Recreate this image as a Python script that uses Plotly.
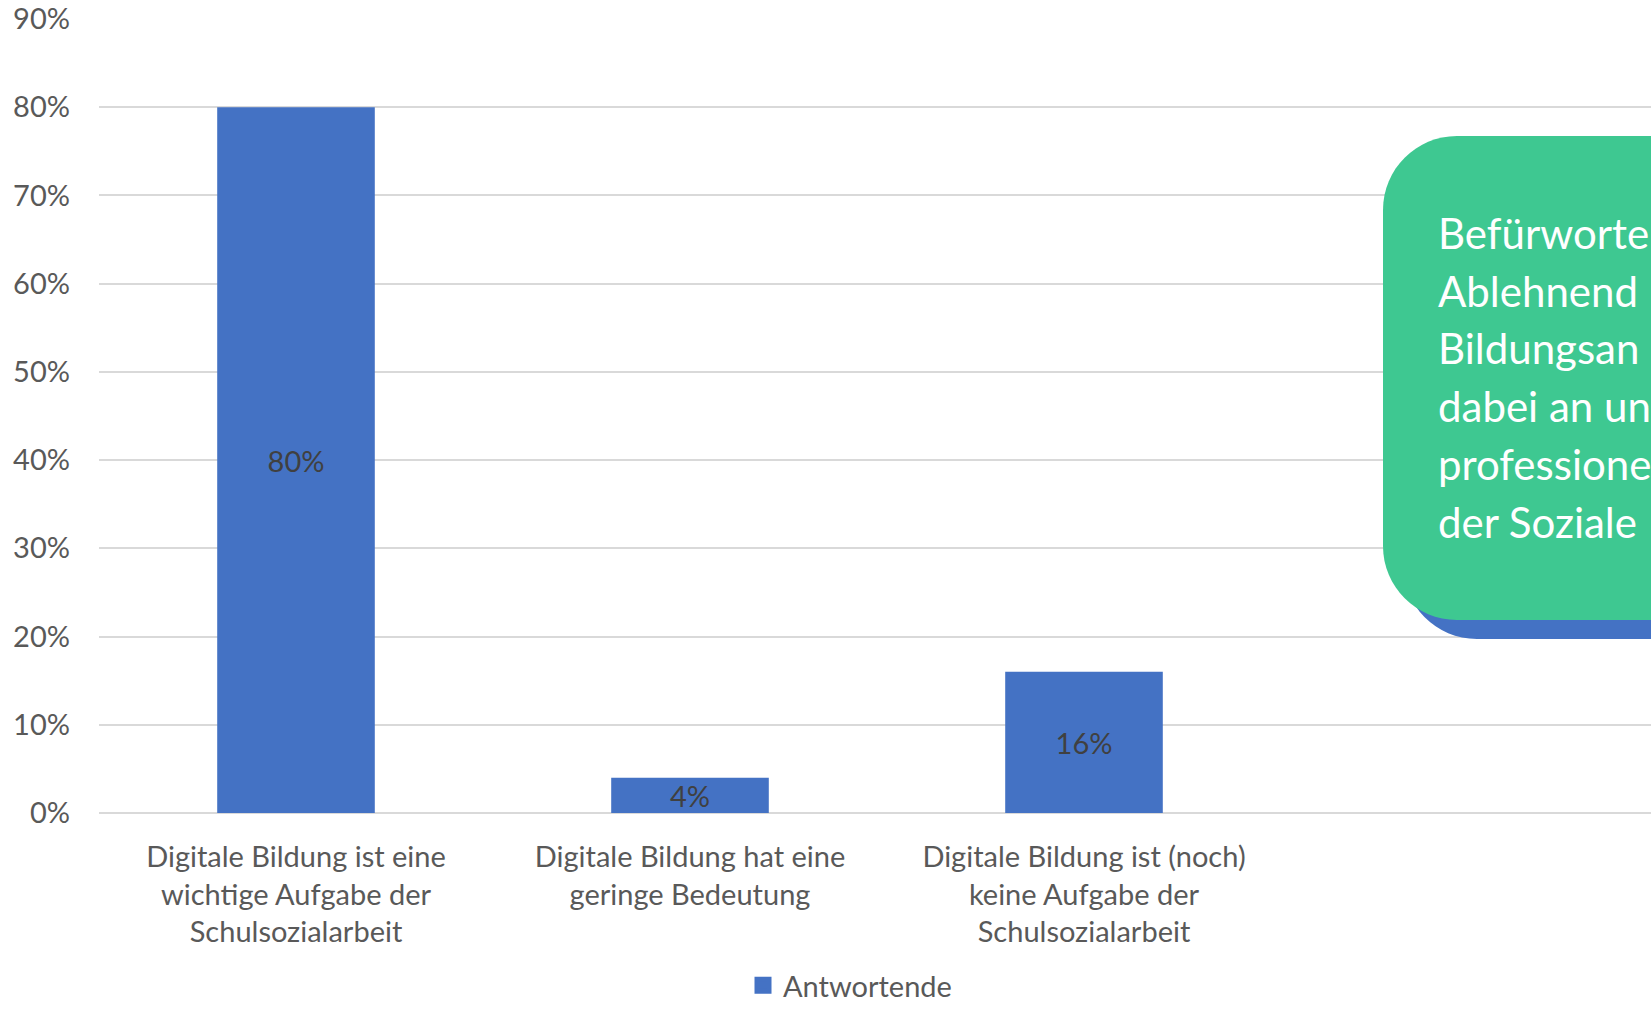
import plotly.graph_objects as go

# ---- data ----
categories = [
    "Digitale Bildung ist eine<br>wichtige Aufgabe der<br>Schulsozialarbeit",
    "Digitale Bildung hat eine<br>geringe Bedeutung",
    "Digitale Bildung ist (noch)<br>keine Aufgabe der<br>Schulsozialarbeit",
]
values = [0.80, 0.04, 0.16]
series_name = "Antwortende"
y_ticks = [0, 0.1, 0.2, 0.3, 0.4, 0.5, 0.6, 0.7, 0.8, 0.9]
callout_lines = ["Befürworte", "Ablehnend", "Bildungsan", "dabei an un", "professione", "der Soziale"]

# ---- layout geometry (pixels) ----
W, H = 1651, 1011
ML, MR, MT, MB = 99, 0, 19, 198
PW = W - ML - MR
PH = H - MT - MB

def px_x(p):
    return (p - ML) / PW

def px_y(p):
    return (H - MB - p) / PH

FONT = "Lato"
BLUE = "#4472C4"
GREEN = "#3EC891"
FS = 29

fig = go.Figure()
fig.add_trace(go.Bar(
    x=categories, y=values, width=0.4,
    marker=dict(color=BLUE, line=dict(width=0)),
    texttemplate="%{y:.0%}", textposition="inside", insidetextanchor="middle",
    constraintext="none", cliponaxis=False,
    textfont=dict(family=FONT, size=FS, color="#404040"),
    showlegend=False, hoverinfo="skip",
))
# legend-only entry
fig.add_trace(go.Bar(
    x=[None], y=[None], name=series_name,
    marker=dict(color=BLUE, line=dict(color=BLUE, width=5)),
    showlegend=True,
))

def rounded_left_rect(x0, top, bot, x1, r):
    rx = r / PW
    ry = r / PH
    k = 0.5523
    X0, X1 = px_x(x0), px_x(x1)
    T, B = px_y(top), px_y(bot)
    return (
        f"M {X0+rx},{T} L {X1},{T} L {X1},{B} L {X0+rx},{B} "
        f"C {X0+rx-k*rx},{B} {X0},{B+ry-k*ry} {X0},{B+ry} "
        f"L {X0},{T-ry} "
        f"C {X0},{T-ry+k*ry} {X0+rx-k*rx},{T} {X0+rx},{T} Z"
    )

shapes = [
    dict(type="path", xref="paper", yref="paper",
         path=rounded_left_rect(1403, 155, 639, 1900, 74),
         fillcolor=BLUE, line=dict(width=0), layer="above"),
    dict(type="path", xref="paper", yref="paper",
         path=rounded_left_rect(1383, 136, 620, 1900, 74),
         fillcolor=GREEN, line=dict(width=0), layer="above"),
]

annotations = []
for i, line in enumerate(callout_lines):
    annotations.append(dict(
        xref="paper", yref="paper", x=px_x(1436), y=px_y(233 + i * 57.7),
        xanchor="left", yanchor="middle", showarrow=False, align="left",
        text=line, font=dict(family=FONT, size=42, color="white"),
    ))

fig.update_layout(
    width=W, height=H,
    margin=dict(l=ML, r=MR, t=MT, b=MB, pad=0, autoexpand=False),
    paper_bgcolor="white", plot_bgcolor="white",
    barmode="overlay",
    font=dict(family=FONT, color="#595959", size=FS),
    xaxis=dict(
        range=[-0.5, -0.5 + PW / 394.0], showgrid=False, showline=False,
        zeroline=False, ticks="", tickfont=dict(family=FONT, size=FS, color="#595959"),
        ticklabelstandoff=24, fixedrange=True, automargin=False,
    ),
    yaxis=dict(
        range=[0, 0.9], tickvals=y_ticks, tickformat=".0%",
        showgrid=True, gridcolor="#D9D9D9", gridwidth=2,
        zeroline=True, zerolinecolor="#D9D9D9", zerolinewidth=2,
        showline=False, ticks="", ticklabelstandoff=28, automargin=False,
        tickfont=dict(family=FONT, size=FS, color="#595959"),
    ),
    legend=dict(
        orientation="h", xref="container", yref="container",
        x=743 / W, y=0, xanchor="left", yanchor="bottom",
        font=dict(family=FONT, size=FS, color="#595959"), bgcolor="rgba(0,0,0,0)",
    ),
    shapes=shapes,
    annotations=annotations,
)

fig.write_html("out.html")
